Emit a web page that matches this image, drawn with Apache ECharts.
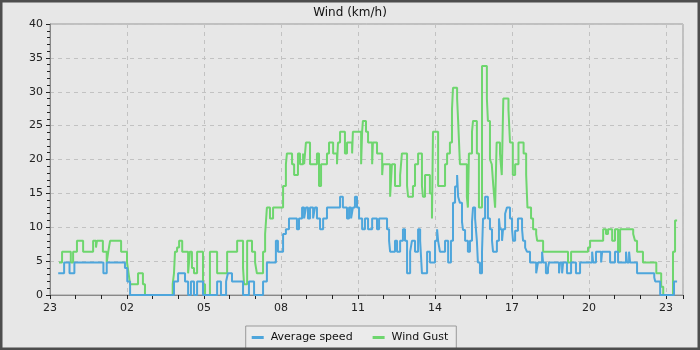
<!DOCTYPE html>
<html>
<head>
<meta charset="utf-8">
<script src="https://cdn.jsdelivr.net/npm/echarts@6/dist/echarts.min.js"></script>
<style>
html,body{margin:0;padding:0;background:#e7e7e7;}
#c{width:700px;height:350px;}
</style>
</head>
<body>
<div id="c"></div>
<script>
// hours after 23:00 of the first day
var xTickHours = [23, 2, 5, 8, 11, 14, 17, 20, 23];
var yTicks = [0, 5, 10, 15, 20, 25, 30, 35, 40];

var avgTimes = [0.32,0.55,0.76,0.95,2.08,2.21,2.92,3.01,3.12,4.83,4.99,5.26,5.38,5.49,5.61,5.73,5.96,6.51,6.66,6.86,6.93,7.09,7.52,7.75,7.95,8.30,8.45,8.80,8.88,9.08,9.19,9.31,9.62,9.70,9.82,9.90,9.97,10.05,10.13,10.25,10.32,10.40,10.52,10.64,10.79,11.30,11.41,11.57,11.65,11.73,11.80,11.88,11.96,12.04,12.16,12.27,12.39,12.55,12.74,12.82,13.13,13.21,13.25,13.44,13.52,13.64,13.75,13.83,13.91,14.03,14.10,14.22,14.34,14.42,14.49,14.69,14.80,15.00,15.08,15.12,15.19,15.39,15.51,15.62,15.70,15.78,15.86,15.90,15.97,16.05,16.09,16.17,16.28,16.36,16.44,16.48,16.56,16.63,16.67,16.75,16.83,16.87,16.95,17.06,17.14,17.22,17.26,17.41,17.49,17.53,17.61,17.65,17.73,17.80,17.92,18.00,18.04,18.12,18.23,18.39,18.43,18.51,18.58,18.70,18.94,19.01,19.17,19.21,19.32,19.40,19.44,19.83,19.87,19.95,19.99,20.14,20.30,20.49,20.65,21.12,21.16,21.27,21.47,21.51,21.82,22.01,22.13,22.44,22.48,22.56,22.60,22.87,23.54,23.58,23.77,24.31,24.43];
var avgSpeed = [3.2,4.8,3.2,4.8,3.2,4.8,4,2,0,2,3.2,2,0,2,0,2,0,2,0,2,3.2,2,0,2,0,2,4.8,8,6.4,9,9.7,11.3,9.7,11.3,12.9,11.3,12.9,11.3,12.9,11.3,12.9,11.3,9.7,11.3,12.9,14.5,12.9,11.3,12.9,11.3,12.9,14.5,12.9,11.3,9.7,11.3,9.7,11.3,9.7,11.3,9.7,8,6.4,8,6.4,8,9.7,8,3.2,6.4,8,6.4,9.7,8,3.2,6.4,4.8,8,9.7,8,6.4,8,4.8,8,13.6,16,17.7,14.5,13.6,10.8,9.6,8,6.4,8,10.8,12.9,11.3,8,4.8,3.2,6.4,11.3,14.5,11.3,9.7,8,6.4,8,11.3,9.7,8,9.7,12,12.9,11.3,9.7,8,9.5,11.3,9.7,8,7,6.4,4.8,3.2,4.8,6.4,4.8,3.2,4,4.8,3.2,4.8,3.2,4.8,3.2,4.8,3.2,4.8,6.4,4.8,6.4,4.8,6.4,4.8,6.4,4.8,6.4,4.8,6.4,4.8,3.2,2.6,2,0,2,2];

var gustTimes = [0.35,0.47,0.81,0.90,1.05,1.29,1.68,1.79,1.83,2.06,2.21,2.27,2.34,2.77,3.00,3.05,3.12,3.43,3.62,3.70,4.78,4.83,4.87,4.95,5.03,5.15,5.38,5.45,5.53,5.61,5.73,5.96,6.04,6.23,6.51,6.90,7.29,7.52,7.56,7.68,7.87,7.99,8.06,8.30,8.38,8.45,8.57,8.69,9.08,9.19,9.23,9.43,9.51,9.66,9.74,9.86,9.90,9.97,10.13,10.40,10.48,10.56,10.79,10.87,11.03,11.18,11.22,11.30,11.49,11.57,11.77,11.80,12.12,12.16,12.19,12.31,12.39,12.55,12.58,12.74,12.94,12.97,13.25,13.32,13.44,13.64,13.71,13.91,13.95,14.14,14.22,14.34,14.49,14.53,14.61,14.80,14.88,14.92,15.12,15.39,15.47,15.58,15.66,15.70,15.86,15.90,15.97,16.24,16.28,16.32,16.44,16.48,16.63,16.71,16.83,17.02,17.06,17.14,17.21,17.27,17.34,17.40,17.53,17.60,17.66,17.86,17.92,18.03,18.12,18.25,18.45,18.55,18.60,18.74,18.82,18.94,18.98,19.21,20.18,20.30,20.96,21.04,21.55,21.66,21.74,21.90,22.01,22.13,22.21,22.72,22.79,22.87,23.10,23.62,23.81,23.89,24.27,24.35,24.43];
var windGust = [4.8,6.4,4.8,6.4,8,6.4,8,7,8,6.4,4.8,6.4,8,6.4,4.8,3.5,1.6,3.2,1.6,0,1.6,3.2,6.4,7,8,6.4,3.2,6.4,4,3.2,6.4,1.6,0,6.4,3.2,6.4,8,4,1.6,8,6.4,4.8,3.2,6.4,9,12.9,11.3,12.9,16.1,19.3,20.9,19.3,17.7,20.9,19.3,20.9,19.3,22.5,19.3,20.9,16.1,19.3,20.9,22.5,20.9,19.3,22.5,24.1,20.9,22.5,20.9,24.1,19.3,24.1,25.7,24.1,22.5,19.3,22.5,20.9,17.7,19.3,14.5,19.3,16.1,17.7,20.9,16.1,14.5,16.1,19.3,20.9,16.1,14.5,17.7,15,11.3,24.1,16.1,19.3,20.9,22.5,27.4,30.6,29,25.7,19.3,14.5,12.9,20.9,24.1,25.7,20.9,12.9,33.8,29,25.7,20,19.3,16.1,12.9,22.5,20.9,17.7,29,27.4,22.5,17.7,19.3,22.5,20.9,17.7,12.9,11.3,9.7,9,8,6.4,4.8,6.4,7,8,9.7,9,9.7,8,9.7,6.4,9.7,9,8,6.4,4.8,3.2,1.2,0,6.4,11,11];

function pairs(t, v) { return t.map(function (x, i) { return [x, v[i]]; }); }
function pad(n) { return (n < 10 ? '0' : '') + n; }

var chart = echarts.init(document.getElementById('c'), null, {renderer: 'canvas'});
var font = 'DejaVu Sans';
chart.setOption({
  animation: false,
  backgroundColor: '#e7e7e7',
  title: {
    text: 'Wind (km/h)', left: 'center', top: 2,
    textStyle: {fontFamily: font, fontSize: 12, fontWeight: 'normal', color: '#111'}
  },
  legend: {
    bottom: 1, left: 'center',
    data: ['Average speed', 'Wind Gust'],
    icon: 'rect', itemWidth: 12, itemHeight: 3, itemGap: 20,
    borderColor: '#999', borderWidth: 1, padding: [6, 8, 6, 6],
    backgroundColor: '#ebebeb',
    textStyle: {fontFamily: font, fontSize: 11, color: '#111', padding: [0, 0, 0, 2]}
  },
  grid: {
    left: 50, right: 17, top: 24, bottom: 55,
    show: true, borderColor: '#999', borderWidth: 1, backgroundColor: '#e7e7e7'
  },
  xAxis: {
    type: 'value', min: 0, max: 24.66, interval: 3,
    axisLine: {lineStyle: {color: '#888', width: 1}},
    axisTick: {show: true, length: 4, lineStyle: {color: '#222'}},
    minorTick: {show: true, splitNumber: 3, length: 4, lineStyle: {color: '#222'}},
    splitLine: {show: true, lineStyle: {color: '#c2c2c2', type: [4, 4]}},
    axisLabel: {
      showMaxLabel: false, margin: 8,
      fontFamily: font, fontSize: 11, color: '#222',
      formatter: function (v) {
        var i = Math.round(v / 3);
        return i < xTickHours.length ? pad(xTickHours[i]) : '';
      }
    }
  },
  yAxis: {
    type: 'value', min: yTicks[0], max: yTicks[yTicks.length - 1], interval: 5,
    axisLine: {show: true, lineStyle: {color: '#888', width: 1}},
    axisTick: {show: true, length: 4, lineStyle: {color: '#222'}},
    minorTick: {show: true, splitNumber: 5, length: 3, lineStyle: {color: '#222'}},
    splitLine: {show: true, lineStyle: {color: '#c2c2c2', type: [4, 4]}},
    axisLabel: {margin: 7, fontFamily: font, fontSize: 11, color: '#222'}
  },
  series: [
    {
      name: 'Average speed', type: 'line', step: 'end', showSymbol: false, symbol: 'none',
      data: pairs(avgTimes, avgSpeed),
      lineStyle: {color: '#4ea6dc', width: 2}, itemStyle: {color: '#4ea6dc'}, z: 3
    },
    {
      name: 'Wind Gust', type: 'line', step: 'end', showSymbol: false, symbol: 'none',
      data: pairs(gustTimes, windGust),
      lineStyle: {color: '#6ed66e', width: 2}, itemStyle: {color: '#6ed66e'}, z: 2
    }
  ],
  graphic: [{
    type: 'rect', silent: true, z: 100,
    shape: {x: 1, y: 1, width: 698, height: 348},
    style: {fill: null, stroke: '#4d4d4d', lineWidth: 3}
  }]
});
</script>
</body>
</html>
